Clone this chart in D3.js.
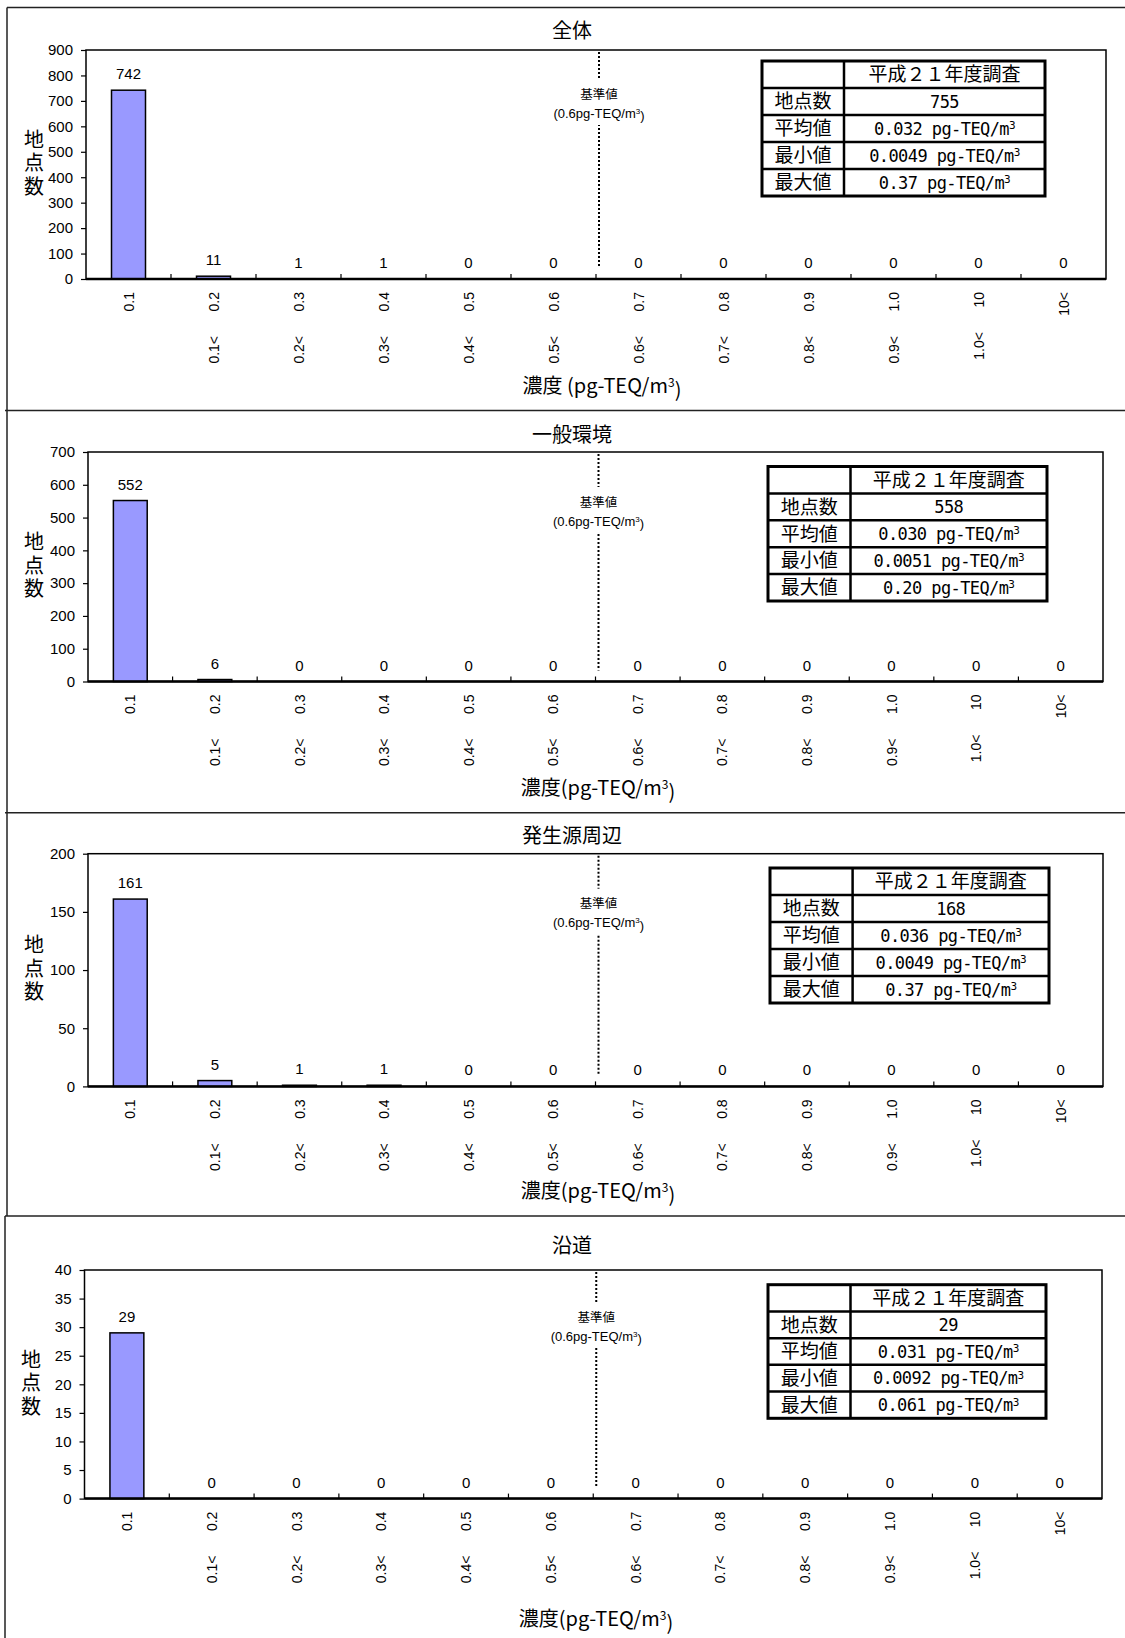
<!DOCTYPE html>
<html><head><meta charset="utf-8">
<script src="https://cdnjs.cloudflare.com/ajax/libs/d3/7.8.5/d3.min.js"></script>
<style>body{margin:0;background:#fff}svg{display:block;background:#fff}</style>
</head><body>
<svg id="c" width="1125" height="1638"></svg>
<script>
// ---------- data ----------
const categories = ["<=0.1","0.1-0.2","0.2-0.3","0.3-0.4","0.4-0.5","0.5-0.6","0.6-0.7","0.7-0.8","0.8-0.9","0.9-1.0","1.0-10","10<"];
const upperLabels = ["0.1","0.2","0.3","0.4","0.5","0.6","0.7","0.8","0.9","1.0","10","10<"];
const lowerLabels = ["","0.1<","0.2<","0.3<","0.4<","0.5<","0.6<","0.7<","0.8<","0.9<","1.0<",""];

const panelTitles = ["全体","一般環境","発生源周辺","沿道"];
const countsAll     = [742,11,1,1,0,0,0,0,0,0,0,0];
const countsGeneral = [552,6,0,0,0,0,0,0,0,0,0,0];
const countsSource  = [161,5,1,1,0,0,0,0,0,0,0,0];
const countsRoad    = [29,0,0,0,0,0,0,0,0,0,0,0];

const yTicksAll     = [0,100,200,300,400,500,600,700,800,900];
const yTicksGeneral = [0,100,200,300,400,500,600,700];
const yTicksSource  = [0,50,100,150,200];
const yTicksRoad    = [0,5,10,15,20,25,30,35,40];

const tableHeader = "平成２１年度調査";
const statLabels = ["地点数","平均値","最小値","最大値"];
const statsAll     = ["755","0.032","0.0049","0.37"];
const statsGeneral = ["558","0.030","0.0051","0.20"];
const statsSource  = ["168","0.036","0.0049","0.37"];
const statsRoad    = ["29","0.031","0.0092","0.061"];

const yTitle = "地点数";
const xTitles = ["濃度 (pg-TEQ/m","濃度(pg-TEQ/m","濃度(pg-TEQ/m","濃度(pg-TEQ/m"];
const refLabel1 = "基準値";
const refLabel2 = "(0.6pg-TEQ/m";
const refCategory = "0.6-0.7";

const panelCounts = [countsAll,countsGeneral,countsSource,countsRoad];
const panelTicks = [yTicksAll,yTicksGeneral,yTicksSource,yTicksRoad];
const panelStats = [statsAll,statsGeneral,statsSource,statsRoad];

// ---------- layout ----------
const layout = [
 {top:7.5, titleY:31, plot:{x0:86,x1:1106,y0:50,y1:279}, table:{x:762,y:61,w:283,h:135,div:844}, xTitle:{x:602,y:386}, yLabX:34, refDy:44},
 {top:410.5, titleY:435, plot:{x0:88,x1:1103,y0:452,y1:681.5}, table:{x:768,y:466.5,w:279,h:134.5,div:850.5}, xTitle:{x:598,y:788}, yLabX:34, refDy:50},
 {top:812.7, titleY:836, plot:{x0:88,x1:1103,y0:853.7,y1:1086.4}, table:{x:770,y:868,w:279,h:135,div:852.6}, xTitle:{x:598,y:1191}, yLabX:34, refDy:50},
 {top:1216, titleY:1246, plot:{x0:84.5,x1:1102,y0:1270,y1:1498.6}, table:{x:768,y:1284.7,w:278,h:133.6,div:850.5}, xTitle:{x:596,y:1619}, yLabX:31, refDy:47}
];

const JP = '"Noto Sans CJK JP","Noto Sans",sans-serif';
const LAT = '"Liberation Sans",Arial,sans-serif';
const MONO = '"DejaVu Sans Mono",monospace';

const svg = d3.select("#c");

// frame lines
const frame = svg.append("g").attr("stroke","#222").attr("stroke-width",1.5);
frame.append("line").attr("x1",7).attr("y1",layout[0].top).attr("x2",1125).attr("y2",layout[0].top);
frame.append("line").attr("x1",7).attr("y1",layout[0].top).attr("x2",7).attr("y2",layout[3].top);
frame.append("line").attr("x1",5).attr("y1",layout[3].top).attr("x2",5).attr("y2",1638);
[1,2,3].forEach(i=>frame.append("line").attr("x1",5).attr("y1",layout[i].top).attr("x2",1125).attr("y2",layout[i].top));

function supText(sel, base, sup, tail, supSize){
  sel.append("tspan").text(base);
  sel.append("tspan").attr("dy","-0.5em").attr("font-size",supSize).text(sup);
  sel.append("tspan").attr("dy","0.5em").text(tail);
}

layout.forEach((L,i)=>{
  const g = svg.append("g");
  const data = panelCounts[i];
  const ticks = panelTicks[i];
  const x = d3.scaleBand().domain(categories).range([L.plot.x0,L.plot.x1]).paddingInner(0).paddingOuter(0);
  const y = d3.scaleLinear().domain([0,ticks[ticks.length-1]]).range([L.plot.y1,L.plot.y0]);
  const bw = x.bandwidth();

  // title
  g.append("text").attr("x",572).attr("y",L.titleY).attr("dy","0.36em")
    .attr("text-anchor","middle").attr("font-family",JP).attr("font-size",20).text(panelTitles[i]);

  // plot border
  g.append("rect").attr("x",L.plot.x0).attr("y",L.plot.y0)
    .attr("width",L.plot.x1-L.plot.x0).attr("height",L.plot.y1-L.plot.y0)
    .attr("fill","#fff").attr("stroke","#000").attr("stroke-width",1.5);

  // reference line
  const xr = x(refCategory)+3;
  g.append("line").attr("x1",xr).attr("x2",xr).attr("y1",L.plot.y0+2).attr("y2",L.plot.y1-11)
    .attr("stroke","#000").attr("stroke-width",2).attr("stroke-dasharray","2,2");
  const ry = L.plot.y0+L.refDy;
  g.append("rect").attr("x",xr-4).attr("width",8).attr("y",ry-15).attr("height",46).attr("fill","#fff");
  g.append("text").attr("x",xr).attr("y",ry).attr("dy","0.36em").attr("text-anchor","middle")
    .attr("font-family",JP).attr("font-size",12.5).text(refLabel1);
  const rt = g.append("text").attr("x",xr).attr("y",ry+19).attr("dy","0.36em").attr("text-anchor","middle")
    .attr("font-family",LAT).attr("font-size",13);
  supText(rt, refLabel2, "3", ")", 8);

  // bars
  g.selectAll("rect.bar").data(data.map((v,k)=>({v,c:categories[k]})).filter(d=>d.v>0))
    .join("rect").attr("class","bar")
    .attr("x",d=>x(d.c)+bw*0.3).attr("width",bw*0.4)
    .attr("y",d=>y(d.v)).attr("height",d=>y(0)-y(d.v))
    .attr("fill","#9999FF").attr("stroke","#000").attr("stroke-width",1.5);

  // value labels
  g.selectAll("text.val").data(data.map((v,k)=>({v,c:categories[k]})))
    .join("text").attr("class","val")
    .attr("x",d=>x(d.c)+bw/2).attr("y",d=>y(d.v)-11)
    .attr("text-anchor","middle").attr("font-family",LAT).attr("font-size",15).text(d=>d.v);

  // x axis line & inner ticks
  g.append("line").attr("x1",L.plot.x0).attr("x2",L.plot.x1).attr("y1",y(0)).attr("y2",y(0))
    .attr("stroke","#000").attr("stroke-width",2.5);
  g.selectAll("line.xt").data(categories.slice(1)).join("line").attr("class","xt")
    .attr("x1",d=>x(d)).attr("x2",d=>x(d)).attr("y1",y(0)).attr("y2",y(0)-5)
    .attr("stroke","#000").attr("stroke-width",1.2);

  // y axis
  const ya = g.append("g").attr("transform",`translate(${L.plot.x0},0)`)
    .call(d3.axisLeft(y).tickValues(ticks).tickSize(5).tickPadding(8).tickFormat(d3.format("d")));
  ya.select(".domain").remove();
  ya.selectAll("line").attr("stroke","#000").attr("stroke-width",1.2);
  ya.selectAll("text").attr("font-family",LAT).attr("font-size",15).attr("fill","#000");

  // x labels
  const xl = y(0)+13;
  categories.forEach((c,k)=>{
    const cx = x(c)+bw/2;
    const t1 = g.append("text").attr("transform",`translate(${cx},${xl}) rotate(-90)`)
      .attr("text-anchor","end").attr("dy","0.36em").attr("font-family",LAT).attr("font-size",14).text(upperLabels[k]);
    const len = t1.node().getComputedTextLength();
    if(lowerLabels[k]){
      g.append("text").attr("transform",`translate(${cx},${xl+len+24.5}) rotate(-90)`)
        .attr("text-anchor","end").attr("dy","0.36em").attr("font-family",LAT).attr("font-size",14).text(lowerLabels[k]);
    }
  });

  // x title
  const xt = g.append("text").attr("x",L.xTitle.x).attr("y",L.xTitle.y).attr("dy","0.36em")
    .attr("text-anchor","middle").attr("font-family",JP).attr("font-size",20);
  supText(xt, xTitles[i], "3", ")", 12);

  // y title (vertical)
  const cy = (L.plot.y0+L.plot.y1)/2;
  g.append("text").attr("x",L.yLabX).attr("y",cy)
    .attr("writing-mode","vertical-rl").attr("text-anchor","middle")
    .attr("letter-spacing","3.5px")
    .attr("font-family",JP).attr("font-size",20).text(yTitle);

  // stats table
  const T = L.table, rh = T.h/5;
  const tg = g.append("g");
  tg.append("rect").attr("x",T.x).attr("y",T.y).attr("width",T.w).attr("height",T.h)
    .attr("fill","#fff").attr("stroke","#000").attr("stroke-width",3);
  for(let r=1;r<5;r++){
    tg.append("line").attr("x1",T.x).attr("x2",T.x+T.w).attr("y1",T.y+r*rh).attr("y2",T.y+r*rh)
      .attr("stroke","#000").attr("stroke-width",2.5);
  }
  tg.append("line").attr("x1",T.div).attr("x2",T.div).attr("y1",T.y).attr("y2",T.y+T.h)
    .attr("stroke","#000").attr("stroke-width",2.5);
  const vc = (T.div+T.x+T.w)/2, lc = (T.x+T.div)/2;
  tg.append("text").attr("x",vc).attr("y",T.y+rh/2).attr("dy","0.36em").attr("text-anchor","middle")
    .attr("font-family",JP).attr("font-size",19).text(tableHeader);
  statLabels.forEach((s,r)=>{
    const yy = T.y+(r+1.5)*rh;
    tg.append("text").attr("x",lc).attr("y",yy).attr("dy","0.36em").attr("text-anchor","middle")
      .attr("font-family",JP).attr("font-size",19).text(s);
    const vt = tg.append("text").attr("x",vc).attr("y",yy).attr("dy","0.36em").attr("text-anchor","middle")
      .attr("font-family",MONO).attr("font-size",17).attr("letter-spacing","-0.6px");
    const val = panelStats[i][r];
    if(r===0) vt.text(val);
    else { supText(vt, val+" pg-TEQ/m", "3", "", 11); }
  });
});
</script>
</body></html>
